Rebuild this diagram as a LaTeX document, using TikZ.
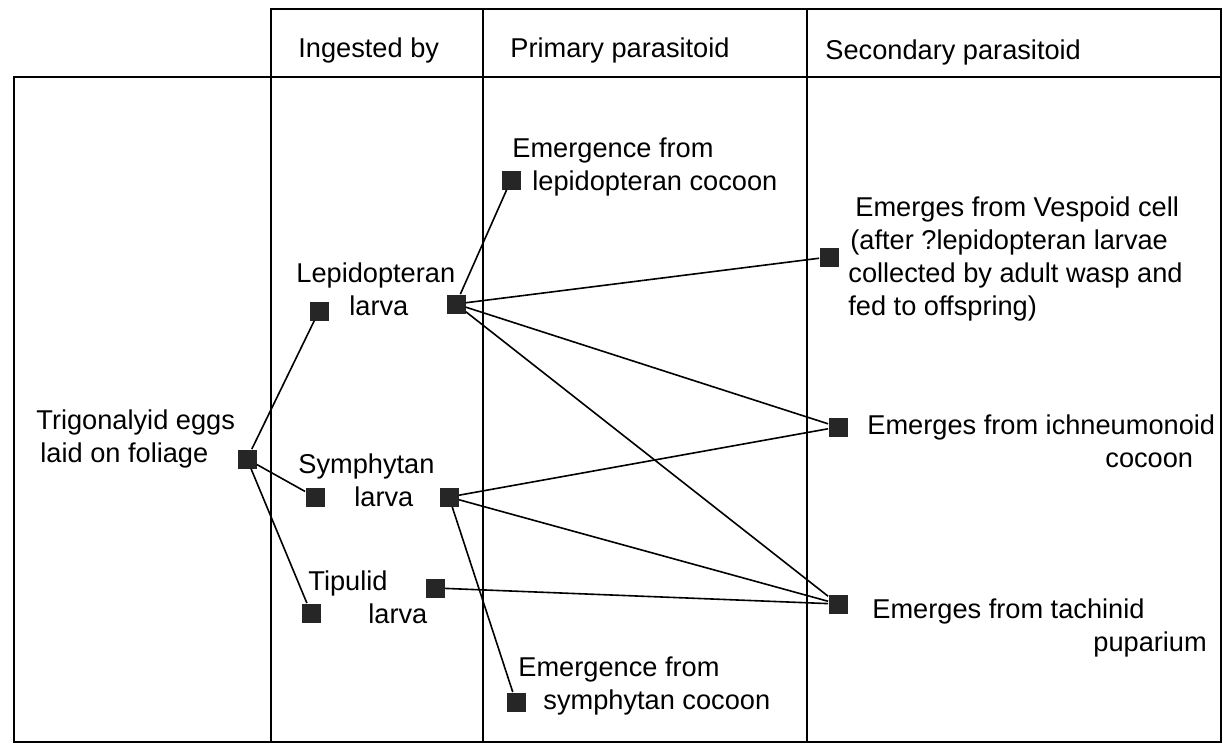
\documentclass[tikz,border=0pt]{standalone}
\usepackage{fontspec}
\setmainfont{Liberation Sans}
\usetikzlibrary{positioning}
\tikzset{
  grid/.style={line width=1.2pt, black},
  marker/.style={rectangle, fill=black!85, draw=none, minimum size=9.5pt, inner sep=0pt},
  lbl/.style={anchor=base west, inner sep=0pt, align=left,
    font=\fontsize{13.6}{16.5}\selectfont},
  link/.style={line width=0.8pt, black},
}

\begin{document}
\begin{tikzpicture}[x=0.5pt, y=-0.5pt]
\useasboundingbox (0,0) rectangle (1223,744);

% ---------------- TABLE ----------------
\draw[grid] (14,77) rectangle (1221,742);
\draw[grid] (271,9) rectangle (1221,77);
\foreach \x in {271,483,807}
  \draw[grid] (\x,9) -- (\x,742);

% ---------------- HEADERS ----------------
\node[lbl] (h-ingest) at (298,57) {Ingested by};
\node[lbl] (h-prim)   at (510,57) {Primary parasitoid};
\node[lbl] (h-sec)    at (825,60) {Secondary parasitoid};

% ---------------- MARKERS ----------------
\node[marker] (m-eggs)    at (247,459) {};
\node[marker] (m-lep-in)  at (319,311) {};
\node[marker] (m-lep-out) at (456,304) {};
\node[marker] (m-sym-in)  at (315,497) {};
\node[marker] (m-sym-out) at (449,497) {};
\node[marker] (m-tip-out) at (435,588) {};
\node[marker] (m-tip-in)  at (311,613) {};
\node[marker] (m-lepcoc)  at (511,180) {};
\node[marker] (m-symcoc)  at (516,702) {};
\node[marker] (m-vesp)    at (829,257) {};
\node[marker] (m-ichn)    at (838,427) {};
\node[marker] (m-tach)    at (838,604) {};

% ---------------- LABELS ----------------
% (base = baseline of the last line)
\node[lbl] (n-eggs) at (36,462) {Trigonalyid eggs\\\hspace*{2pt}laid on foliage};
\node[lbl] (n-lep)  at (296,315) {Lepidopteran\\\hspace*{26.5pt}larva};
\node[lbl] (n-sym)  at (298,506) {Symphytan\\\hspace*{28pt}larva};
\node[lbl] (n-tip)  at (308,623) {Tipulid\\\hspace*{30pt}larva};
\node[lbl] (n-lepcoc) at (512,190) {Emergence from\\\hspace*{10pt}lepidopteran cocoon};
\node[lbl] (n-symcoc) at (518,709) {Emergence from\\\hspace*{12.5pt}symphytan cocoon};
\node[lbl] (n-vesp) at (848,315)
  {\hspace*{3.5pt}Emerges from Vespoid cell\\
   \hspace*{1pt}(after ?lepidopteran larvae\\
   collected by adult wasp and\\
   fed to offspring)};
\node[lbl] (n-ichn) at (867,467) {Emerges from ichneumonoid\\\hspace*{119pt}cocoon};
\node[lbl] (n-tach) at (872,651) {Emerges from tachinid\\\hspace*{110.5pt}puparium};

% ================= LINKS =================
\draw[link] (m-eggs) -- (m-lep-in);
\draw[link] (m-eggs) -- (m-sym-in);
\draw[link] (m-eggs) -- (m-tip-in);

\draw[link] (m-lep-out) -- (m-lepcoc);
\draw[link] (m-lep-out) -- (m-vesp);
\draw[link] (m-lep-out) -- (m-ichn);
\draw[link] (m-lep-out) -- (m-tach);

\draw[link] (m-sym-out) -- (m-ichn);
\draw[link] (m-sym-out) -- (m-tach);
\draw[link] (m-sym-out) -- (m-symcoc);

\draw[link] (m-tip-out) -- (m-tach);

\end{tikzpicture}
\end{document}
